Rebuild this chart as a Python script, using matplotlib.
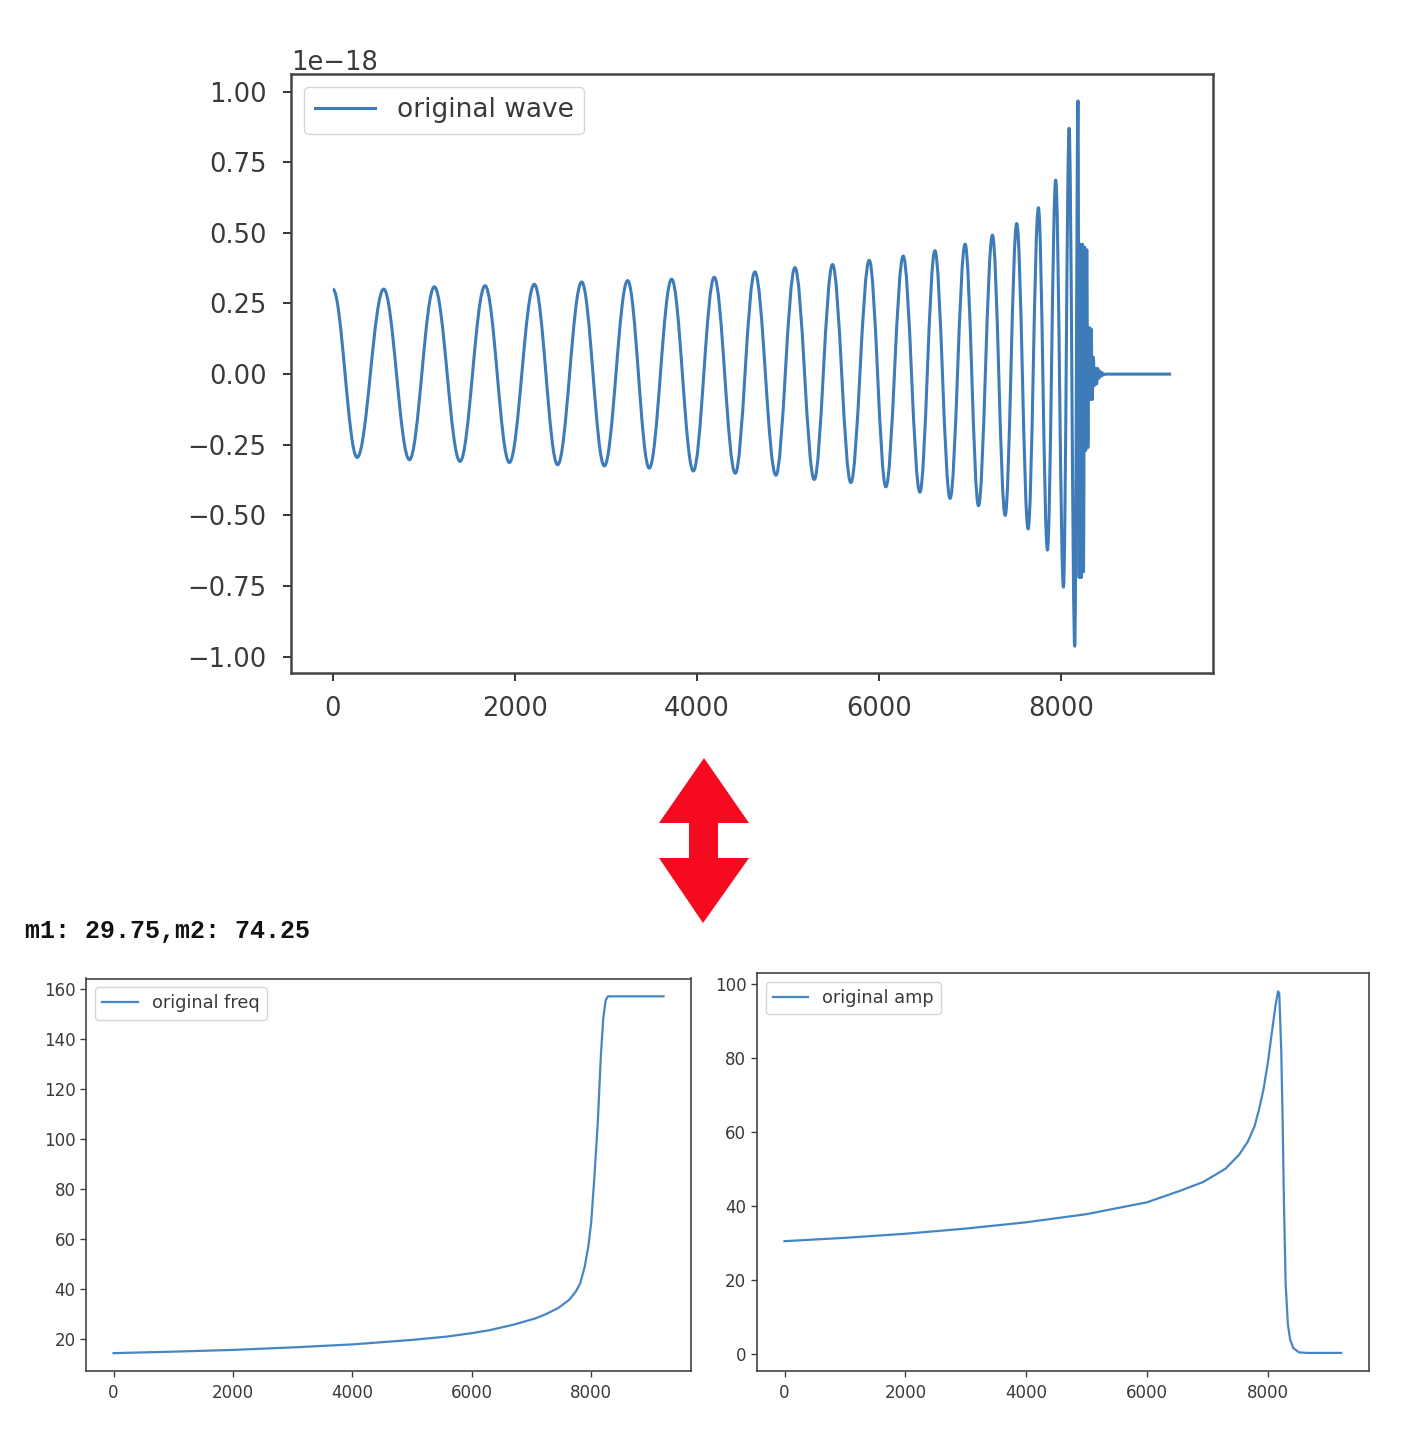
import matplotlib
matplotlib.use('Agg')
import matplotlib.pyplot as plt
from matplotlib.path import Path
from matplotlib.patches import PathPatch, Polygon
from matplotlib.lines import Line2D
from matplotlib.ticker import MultipleLocator

# wave: peaks and troughs (x = sample index, y in units of 1e-18)
wave_x = [0, 266, 558, 840, 1114, 1396, 1671, 1938, 2212, 2468, 2732, 2981,
          3237, 3474, 3720, 3958, 4188, 4419, 4634, 4865, 5074, 5286, 5487,
          5688, 5890, 6073, 6263, 6446, 6611, 6778, 6943, 7090, 7243, 7383,
          7510, 7635, 7748, 7847, 7938, 8023, 8085, 8147, 8183,
          # ringdown, dense enough to show as a solid block
          8195, 8207, 8219, 8231, 8243, 8255, 8267, 8279, 8291, 8303, 8315,
          8327, 8339, 8351, 8363, 8375, 8387, 8399, 8411, 8423, 8435, 8447,
          8460, 8480, 9205]
wave_y = [0.301, -0.295, 0.301, -0.303, 0.309, -0.309, 0.313, -0.313, 0.318,
          -0.321, 0.326, -0.325, 0.331, -0.333, 0.336, -0.343, 0.343, -0.351,
          0.362, -0.358, 0.377, -0.373, 0.388, -0.384, 0.403, -0.399, 0.418,
          -0.418, 0.437, -0.440, 0.460, -0.466, 0.492, -0.500, 0.533, -0.548,
          0.589, -0.623, 0.687, -0.754, 0.870, -0.963, 0.967,
          -0.72, 0.46, -0.72, 0.46, -0.70, 0.45, -0.27, 0.44, -0.26, 0.165,
          -0.09, 0.16, -0.09, 0.06, -0.04, 0.02, -0.035, 0.02, -0.015, 0.01,
          -0.008, 0.005, -0.003, 0.0, 0.0]

# frequency curve
freq_x = [0, 1000, 2000, 3000, 4000, 5000, 5570, 6000, 6300, 6700, 7065, 7250,
          7450, 7630, 7740, 7815, 7890, 7950, 8000, 8050, 8110, 8160, 8200,
          8240, 8280, 9210]
freq_y = [14.5, 15.1, 15.8, 16.8, 18.0, 19.8, 21.1, 22.5, 23.7, 25.9, 28.4, 30.2,
          32.6, 35.8, 39.1, 42.4, 49.0, 57.0, 67.0, 84.0, 107.0, 133.0, 148.0,
          155.5, 157.2, 157.2]

# amplitude curve
amp_x = [0, 1000, 2000, 3000, 4000, 5000, 6000, 6563, 6932, 7301, 7522, 7670,
         7780, 7854, 7928, 8001, 8075, 8127, 8170, 8190, 8223, 8245, 8267,
         8296, 8333, 8370, 8422, 8518, 8650, 9215]
amp_y = [30.5, 31.4, 32.5, 33.9, 35.6, 37.8, 41.0, 44.2, 46.5, 50.1, 53.8, 57.4,
         61.5, 66.0, 71.4, 78.7, 87.8, 94.1, 98.0, 97.5, 82.0, 64.0, 41.5,
         18.9, 8.0, 3.9, 1.6, 0.45, 0.3, 0.3]

label_text = 'm1: 29.75,m2: 74.25'

blue = '#3d7bb9'
blue_light = '#4786c4'
dark = '#3a3a3a'
W, H = 1420, 1434

fig = plt.figure(figsize=(W / 100, H / 100), dpi=100)


def box(left, top, right, bottom):
    return [left / W, 1 - bottom / H, (right - left) / W, (bottom - top) / H]


def style(ax, size, lw, ticklen, xpad, ypad):
    for s in ax.spines.values():
        s.set_linewidth(lw)
        s.set_color('#444444')
    ax.tick_params(labelsize=size, length=ticklen, width=lw * 0.8,
                   colors=dark)
    ax.tick_params(axis='x', pad=xpad)
    ax.tick_params(axis='y', pad=ypad)


# smooth path through the extrema (horizontal tangent at every peak/trough)
def wave_path(xs, ys, k=0.364):
    verts = [(xs[0], ys[0])]
    codes = [Path.MOVETO]
    for i in range(1, len(xs)):
        dx = xs[i] - xs[i - 1]
        verts += [(xs[i - 1] + k * dx, ys[i - 1]), (xs[i] - k * dx, ys[i]), (xs[i], ys[i])]
        codes += [Path.CURVE4] * 3
    return Path(verts, codes)


# top: wave
ax1 = fig.add_axes(box(291, 73.7, 1213, 673.4))
scaled = [v * 1e-18 for v in wave_y]
ax1.add_patch(PathPatch(wave_path(wave_x, scaled), fill=False, edgecolor=blue,
                        lw=2.2, joinstyle='round'))
ax1.autoscale_view()
ax1.yaxis.set_major_locator(MultipleLocator(0.25e-18))
ax1.xaxis.set_major_locator(MultipleLocator(2000))
style(ax1, 18.5, 1.8, 6, 10, 11.5)
ax1.yaxis.get_offset_text().set_fontsize(18.5)
ax1.yaxis.get_offset_text().set_color(dark)
handle = Line2D([], [], color=blue, lw=2.2)
leg = ax1.legend([handle], ['original wave'], loc='upper left', fontsize=19,
                 handlelength=2.3)
for t in leg.get_texts():
    t.set_color(dark)

# bottom left: frequency
ax2 = fig.add_axes(box(86, 978.5, 691, 1371))
ax2.plot(freq_x, freq_y, color=blue_light, lw=1.6, label='original freq')
ax2.yaxis.set_major_locator(MultipleLocator(20))
ax2.xaxis.set_major_locator(MultipleLocator(2000))
style(ax2, 12, 1.2, 4, 5, 3.5)
leg = ax2.legend(loc='upper left', fontsize=12.8)
for t in leg.get_texts():
    t.set_color(dark)

# bottom right: amplitude
ax3 = fig.add_axes(box(756.7, 973.3, 1369, 1371))
ax3.plot(amp_x, amp_y, color=blue_light, lw=1.6, label='original amp')
ax3.yaxis.set_major_locator(MultipleLocator(20))
ax3.xaxis.set_major_locator(MultipleLocator(2000))
style(ax3, 12, 1.2, 4, 5, 3.5)
leg = ax3.legend(loc='upper left', fontsize=12.8)
for t in leg.get_texts():
    t.set_color(dark)

# mass label
fig.text(25 / W, 1 - 931 / H, label_text, family='Liberation Mono',
         fontsize=18, fontweight='bold', va='center', ha='left', color='#111111')

# red double arrow between the panels
arrow_px = [(704, 758), (749, 823), (718, 823), (718, 858), (749, 858),
            (703, 923), (659, 858), (689, 858), (689, 823), (659, 823)]
fig.add_artist(Polygon([(x / W, 1 - y / H) for x, y in arrow_px], closed=True,
                       transform=fig.transFigure, facecolor='#f50a1f',
                       edgecolor='none'))

fig.savefig('out.png', dpi=100)
